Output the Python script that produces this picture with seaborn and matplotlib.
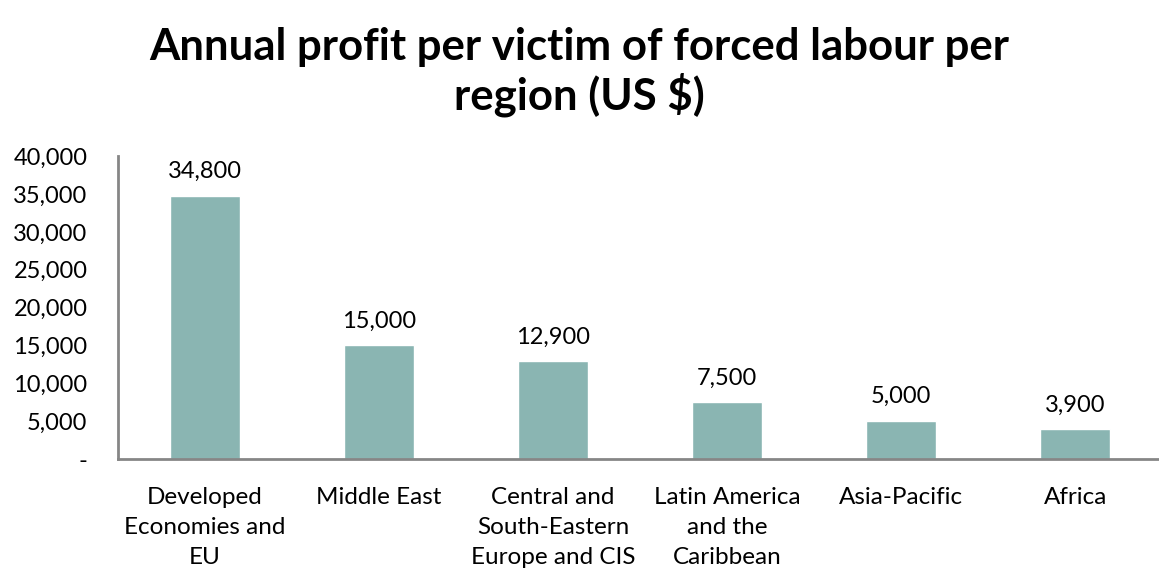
import matplotlib
matplotlib.use("Agg")
import matplotlib.pyplot as plt
import seaborn as sns
import pandas as pd

categories = ["Developed\nEconomies and\nEU", "Middle East", "Central and\nSouth-Eastern\nEurope and CIS",
              "Latin America\nand the\nCaribbean", "Asia-Pacific", "Africa"]
values = [34800, 15000, 12900, 7500, 5000, 3900]
yticks = [0, 5000, 10000, 15000, 20000, 25000, 30000, 35000, 40000]
title = "Annual profit per victim of forced labour per\nregion (US $)"

sns.set_theme(style="white")
plt.rcParams['font.family'] = ['Lato', 'DejaVu Sans']
plt.rcParams['text.color'] = 'black'
plt.rcParams['xtick.color'] = 'black'
plt.rcParams['ytick.color'] = 'black'

df = pd.DataFrame({"region": categories, "profit": values})

fig = plt.figure(figsize=(11.59, 5.68), dpi=100)
ax = fig.add_axes([0.1018, 0.1919, 0.901, 0.533])
sns.barplot(data=df, x="region", y="profit", color="#8AB5B2", saturation=1, width=0.4, ax=ax)

ax.set_ylim(0, 40000)
ax.set_xlim(-0.5, 5.5)
ax.set_yticks(yticks)
ax.set_yticklabels([f"{v:,}" if v else "-" for v in yticks], fontsize=17)
ax.set_xticks(range(len(categories)))
ax.set_xticklabels(categories, fontsize=17.5, linespacing=1.55, va="top")
ax.tick_params(axis="x", length=0, pad=20)
ax.tick_params(axis="y", length=0, pad=22)
ax.set_xlabel("")
ax.set_ylabel("")
for s in ["top", "right"]:
    ax.spines[s].set_visible(False)
for s in ["left", "bottom"]:
    ax.spines[s].set_color("#868686")
    ax.spines[s].set_linewidth(2)

for i, v in enumerate(values):
    ax.annotate(f"{v:,}", (i, v), xytext=(0, 10), textcoords="offset points",
                ha="center", va="bottom", fontsize=17, color="black")

fig.suptitle(title, fontsize=31.5, fontweight="bold", y=0.952, linespacing=1.15, x=0.5, color="black")
fig.savefig("out.png", dpi=100)
